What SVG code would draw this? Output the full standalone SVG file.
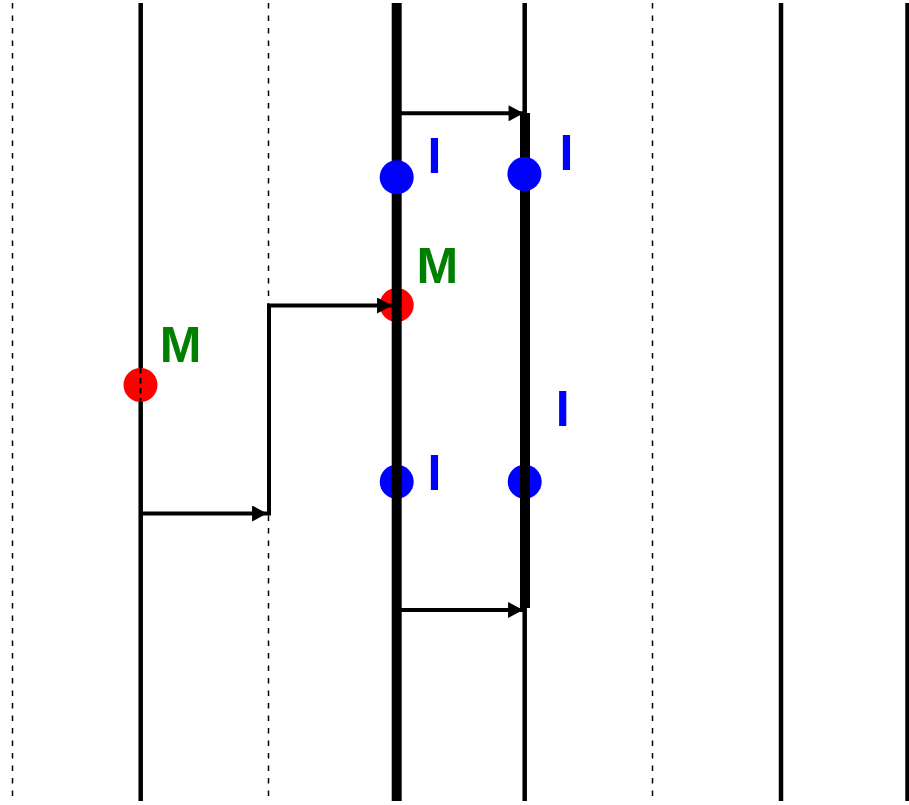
<svg xmlns="http://www.w3.org/2000/svg" width="909" height="805" viewBox="0 0 909 805">
  <style>
    .guide { stroke: #000; stroke-width: 1.5; stroke-dasharray: 5.5 7; fill: none; }
    .life { stroke: #000; stroke-width: 4.5; fill: none; }
    .life-thick { stroke: #000; stroke-width: 10; fill: none; }
    .msg { stroke: #000; stroke-width: 4; fill: none; stroke-linejoin: miter; marker-end: url(#head); }
    .ev-i { fill: #0000ff; }
    .ev-m { fill: #ff0000; }
    .lbl { font-family: "Liberation Sans", Arial, sans-serif; font-weight: bold; font-size: 50px; }
    .lbl-m { fill: #008000; }
    .lbl-i { fill: #0000ff; }
  </style>
  <defs>
    <marker id="head" markerUnits="userSpaceOnUse" markerWidth="16" markerHeight="16" viewBox="0 0 14 15" refX="14" refY="7.5" orient="auto">
      <path d="M0,0 L14,7.5 L0,15 Z" fill="#000"/>
    </marker>
  </defs>
  <rect width="909" height="805" fill="#fff"/>

  <!-- dashed column guides -->
  <g id="guides">
    <line class="guide" x1="12.5" y1="3" x2="12.5" y2="801"/>
    <line class="guide" x1="268.5" y1="3" x2="268.5" y2="801"/>
    <line class="guide" x1="652.5" y1="3" x2="652.5" y2="801"/>
  </g>

  <!-- circles sitting under their lifelines -->
  <g id="event-m1"><circle class="ev-m" cx="140.5" cy="385" r="17"/></g>
  <g id="event-m2"><circle class="ev-m" cx="396.7" cy="305" r="17"/></g>
  <g id="event-i3"><circle class="ev-i" cx="396.7" cy="481.7" r="17"/></g>
  <g id="event-i4"><circle class="ev-i" cx="524.7" cy="481.7" r="17"/></g>

  <!-- lifelines -->
  <g id="lifelines">
    <line class="life" x1="140.7" y1="3" x2="140.7" y2="368"/>
    <line class="life" x1="140.7" y1="402" x2="140.7" y2="801"/>
    <line class="life-thick" x1="396.7" y1="3" x2="396.7" y2="801"/>
    <line class="life" x1="524.7" y1="3" x2="524.7" y2="801"/>
    <line class="life-thick" x1="525" y1="113" x2="525" y2="608"/>
    <line class="life" x1="781" y1="3" x2="781" y2="801"/>
    <line class="life" x1="907.5" y1="3" x2="907.5" y2="801"/>
    <line stroke="#000" stroke-width="2" stroke-dasharray="5.5 4.5" x1="140.5" y1="368" x2="140.5" y2="402"/>
  </g>

  <!-- circles drawn over their lifelines -->
  <g id="event-i1"><circle class="ev-i" cx="396.7" cy="177.3" r="17"/></g>
  <g id="event-i2"><circle class="ev-i" cx="524.4" cy="174" r="17"/></g>

  <!-- messages -->
  <g id="connectors">
    <path class="msg" d="M140.7,513.5 H267"/>
    <path class="msg" d="M269,515.5 V305.5 H392"/>
    <path class="msg" d="M396.7,113.3 H523.5"/>
    <path class="msg" d="M396.7,610 H523"/>
  </g>

  <!-- labels -->
  <g id="label-m1"><text class="lbl lbl-m" x="159.7" y="362">M</text></g>
  <g id="label-m2"><text class="lbl lbl-m" x="416.4" y="282.7">M</text></g>
  <g id="label-i1"><text class="lbl lbl-i" x="427.5" y="173">I</text></g>
  <g id="label-i2"><text class="lbl lbl-i" x="559.5" y="170">I</text></g>
  <g id="label-i3"><text class="lbl lbl-i" x="555.8" y="426">I</text></g>
  <g id="label-i4"><text class="lbl lbl-i" x="427.5" y="490">I</text></g>
</svg>
